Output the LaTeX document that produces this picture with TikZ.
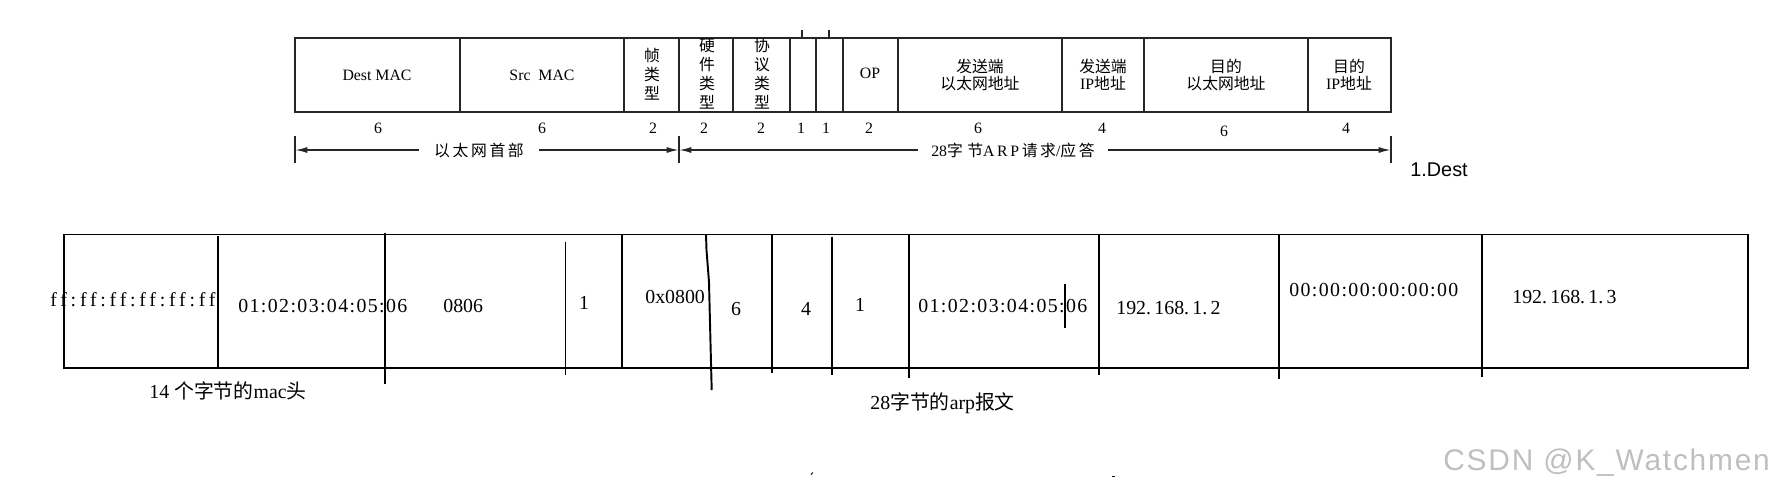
\documentclass[tikz,border=0pt]{standalone}
\usepackage{fontspec}
\setmainfont{Liberation Serif}
\newfontfamily\zh{Noto Sans CJK SC}
\newfontfamily\uisans{Liberation Sans}
\newfontfamily\marksans[LetterSpace=6]{Liberation Sans}
\newfontfamily\colonserif[LetterSpace=7]{Liberation Serif}
\newfontfamily\spreadserif[LetterSpace=19,Ligatures=CommonOff]{Liberation Serif}
\usetikzlibrary{arrows.meta,positioning}

\tikzset{
	topline/.style={line width=0.9pt,black!85},
	botline/.style={line width=1.1pt},
	toptxt/.style={inner sep=0pt,font=\fontsize{9}{9.5}\selectfont},
	stacktxt/.style={inner sep=0pt,align=center,font=\zh\fontsize{9}{10.8}\selectfont},
	pairtxt/.style={inner sep=0pt,align=center,font=\fontsize{9}{9.5}\selectfont},
	bottxt/.style={inner sep=0pt,font=\fontsize{11.3}{13}\selectfont},
	dimarrow/.style={line width=0.9pt,black!85,-{Latex[length=7pt,width=3.4pt]}}
}

\begin{document}
\begin{tikzpicture}[x=0.02cm,y=-0.02cm]
	\useasboundingbox (0,0) rectangle (1776,498);
	
	% Drawing top frame
	\draw[topline] (295,38) rectangle (1391,112);%
	
	% Drawing top dividers
	\draw[topline] (460,38) -- (460,112);%
	\draw[topline] (624,38) -- (624,112);%
	\draw[topline] (679,38) -- (679,112);%
	\draw[topline] (733,38) -- (733,112);%
	\draw[topline] (790,38) -- (790,112);%
	\draw[topline] (816,38) -- (816,112);%
	\draw[topline] (843,38) -- (843,112);%
	\draw[topline] (898,38) -- (898,112);%
	\draw[topline] (1062,38) -- (1062,112);%
	\draw[topline] (1144,38) -- (1144,112);%
	\draw[topline] (1308,38) -- (1308,112);%
	
	% Drawing small marks above the 1 byte fields
	\draw[topline] (802,30) -- (802,38);%
	\draw[topline] (829,30) -- (829,38);%
	
	% Marking top fields
	\draw (377,75) node[toptxt] (dmac) {Dest MAC};%
	\draw (542,75) node[toptxt] (smac) {Src\ \ MAC};%
	\draw (652,74) node[stacktxt] (ftype) {帧\\类\\型};%
	\draw (707,74) node[stacktxt] (hwtype) {硬\\件\\类\\型};%
	\draw (762,74) node[stacktxt] (prtype) {协\\议\\类\\型};%
	\draw (870,73) node[toptxt] (op) {OP};%
	\draw (980,75) node[pairtxt] (sndmac) {{\zh 发送端}\\{\zh 以太网地址}};%
	\draw (1103,75) node[pairtxt] (sndip) {{\zh 发送端}\\IP{\zh 地址}};%
	\draw (1226,75) node[pairtxt] (dstmac) {{\zh 目的}\\{\zh 以太网地址}};%
	\draw (1349,75) node[pairtxt] (dstip) {{\zh 目的}\\IP{\zh 地址}};%
	
	% Marking field sizes
	\draw (378,128) node[toptxt] (len1) {6};%
	\draw (542,128) node[toptxt] (len2) {6};%
	\draw (653,128) node[toptxt] (len3) {2};%
	\draw (704,128) node[toptxt] (len4) {2};%
	\draw (761,128) node[toptxt] (len5) {2};%
	\draw (801,128) node[toptxt] (len6) {1};%
	\draw (826,128) node[toptxt] (len7) {1};%
	\draw (869,128) node[toptxt] (len8) {2};%
	\draw (978,128) node[toptxt] (len9) {6};%
	\draw (1102,128) node[toptxt] (len10) {4};%
	\draw (1224,131) node[toptxt] (len11) {6};%
	\draw (1346,128) node[toptxt] (len12) {4};%
	
	% Drawing dimension ticks
	\draw[topline] (295,136) -- (295,163);%
	\draw[topline] (679,136) -- (679,163);%
	\draw[topline] (1391,136) -- (1391,163);%
	\coordinate (hdrL) at (295,150);
	\coordinate (hdrR) at (679,150);
	\coordinate (arpR) at (1391,150);
	
	% Drawing dimension arrows
	\draw (479,150) node[toptxt,font=\zh\fontsize{9}{9.5}\selectfont,inner xsep=8.5pt] (hdr) {以\,太\,网\,首\,部};%
	\draw (1013,150) node[toptxt,inner xsep=7.5pt] (arp) {28{\zh 字\;节}A\,R\,P{\zh \,请\,求}/{\zh 应\,答}};%
	\draw[dimarrow] (hdr.west) -- (hdrL);%
	\draw[dimarrow] (hdr.east) -- (hdrR);%
	\draw[dimarrow] (arp.west) -- (hdrR);%
	\draw[dimarrow] (arp.east) -- (arpR);%
	
	% Marking 1.Dest
	\draw (1439,170) node[inner sep=0pt,font=\uisans\fontsize{11.3}{13}\selectfont] (dest) {1.Dest};%
	
	% Drawing bottom frame
	\draw[botline] (64,234.5) rectangle (1748,368);%
	
	% Drawing bottom dividers
	\draw[botline] (218,236) -- (218,368);%
	\draw[botline] (385,232.5) -- (385,384);%
	\draw[botline] (565.5,241.5) -- (565.5,375);%
	\draw[botline] (622,234.5) -- (622,368);%
	\draw[botline] (706,234.5) -- (706.5,250) -- (709,282) -- (710.5,343) -- (711.7,390);%
	\draw[botline] (772,234.5) -- (772,372.5);%
	\draw[botline] (832,236.5) -- (832,375);%
	\draw[botline] (909,234.5) -- (909,378);%
	\draw[botline] (1099,234.5) -- (1099,375);%
	\draw[botline] (1279,234.5) -- (1279,379);%
	\draw[botline] (1482,234.5) -- (1482,377);%
	\draw[botline] (1065,284) -- (1065,328);%
	
	% Marking bottom values
	\draw (50,300) node[bottxt,anchor=west,font=\spreadserif\fontsize{11.3}{13}\selectfont] (vdmac) {ff:ff:ff:ff:ff:ff};%
	\draw (238,306) node[bottxt,anchor=west,font=\colonserif\fontsize{11.3}{13}\selectfont] (vsmac) {01:02:03:04:05:06};%
	\draw (443,306) node[bottxt,anchor=west] (vftype) {0806};%
	\draw (584,303) node[bottxt] (vhw) {1};%
	\draw (645,297) node[bottxt,anchor=west] (vpr) {0x0800};%
	\draw (736,309) node[bottxt] (vhlen) {6};%
	\draw (806,309) node[bottxt] (vplen) {4};%
	\draw (860,305) node[bottxt] (vop) {1};%
	\draw (918,306) node[bottxt,anchor=west,font=\colonserif\fontsize{11.3}{13}\selectfont] (vsnd) {01:02:03:04:05:06};%
	\draw (1116,308) node[bottxt,anchor=west] (vsip) {192.\,168.\,1.\,2};%
	\draw (1289,290) node[bottxt,anchor=west,font=\colonserif\fontsize{11.3}{13}\selectfont] (vdst) {00:00:00:00:00:00};%
	\draw (1512,297) node[bottxt,anchor=west] (vdip) {192.\,168.\,1.\,3};%
	
	% Marking bottom captions
	\draw (149,391) node[bottxt,anchor=west] (machead) {14 {\zh 个字节的}mac{\zh 头}};%
	\draw (870,403) node[bottxt,anchor=west] (arpbody) {28{\zh 字节的}arp{\zh 报文}};%
	
	% Drawing stray marks
	\draw[line width=0.5pt] (811,474.5) -- (813,472.5);%
	\draw[line width=0.5pt] (1112,476) -- (1114.5,476);%
	
	% Marking watermark
	\draw (1443,463) node[anchor=west,inner sep=0pt,text=black!25,font=\marksans\fontsize{17}{20}\selectfont] (wm) {CSDN @K\_Watchmen};%
\end{tikzpicture}
\end{document}
